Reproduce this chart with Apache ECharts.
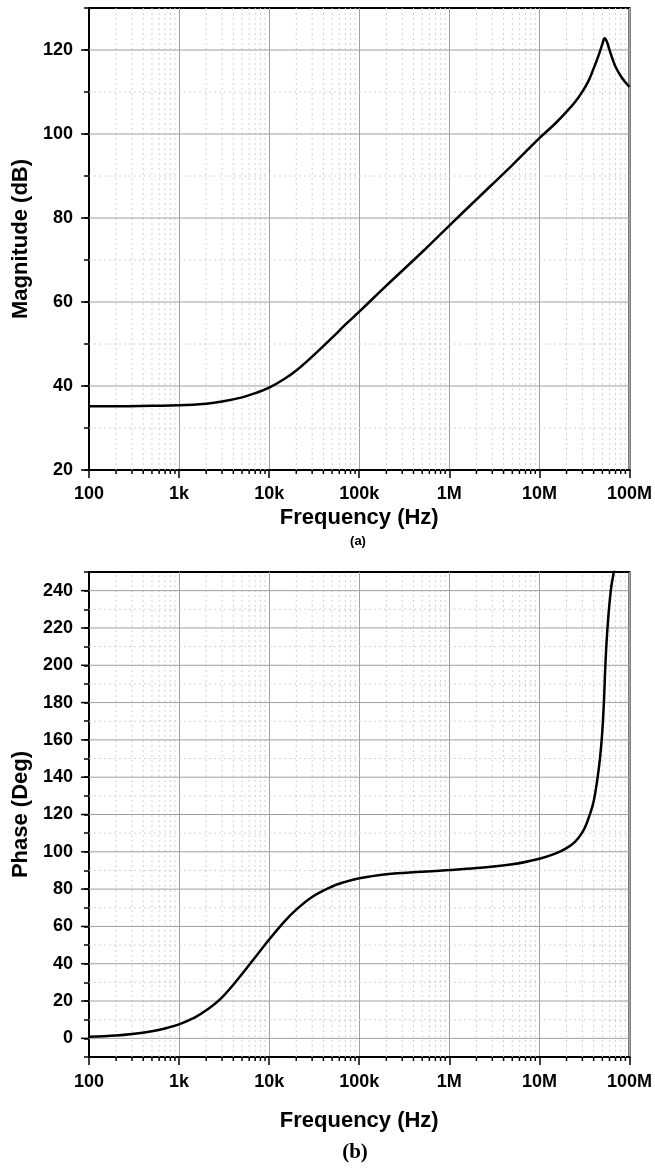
<!DOCTYPE html>
<html>
<head>
<meta charset="utf-8">
<script src="https://cdn.jsdelivr.net/npm/echarts@6/dist/echarts.min.js"></script>
<style>html,body{margin:0;padding:0;background:#fff}#c{width:655px;height:1169px}</style>
</head>
<body>
<div id="c"></div>
<script>
// ---- data ----
const freqTickLabels = ['100', '1k', '10k', '100k', '1M', '10M', '100M'];
const freqTickExp = [2, 3, 4, 5, 6, 7, 8];

const magFreq = [100, 200, 500, 1e3, 2e3, 3e3, 5e3, 7e3, 1e4, 1.5e4, 2e4, 3e4, 5e4, 7e4, 1e5, 2e5, 5e5, 1e6, 2e6, 5e6, 1e7, 1.5e7, 2e7, 2.5e7, 3e7, 3.5e7, 4e7, 4.5e7, 5e7, 5.3e7, 5.6e7, 6e7, 6.5e7, 7e7, 8e7, 9e7, 1e8];
const magDb = [35.2, 35.2, 35.3, 35.4, 35.8, 36.3, 37.3, 38.3, 39.6, 41.8, 43.7, 47.0, 51.5, 54.6, 57.7, 63.9, 71.9, 78.2, 84.4, 92.6, 99.0, 102.5, 105.3, 107.7, 110.1, 112.6, 115.6, 118.5, 121.4, 122.8, 122.0, 120.0, 117.8, 116.0, 113.8, 112.3, 111.2];

const phFreq = [100, 200, 300, 500, 700, 1e3, 1.5e3, 2e3, 3e3, 5e3, 7e3, 1e4, 1.5e4, 2e4, 3e4, 5e4, 7e4, 1e5, 2e5, 5e5, 1e6, 2e6, 5e6, 1e7, 1.5e7, 2e7, 2.5e7, 3e7, 3.3e7, 3.6e7, 4e7, 4.4e7, 4.7e7, 4.95e7, 5.2e7, 5.4e7, 5.7e7, 6.2e7, 6.7e7, 7.5e7];
const phDeg = [0.8, 1.5, 2.3, 3.8, 5.3, 7.5, 11.2, 15, 22, 34.5, 43.5, 53, 63, 69, 75.8, 81.4, 83.9, 85.8, 88, 89.3, 90.2, 91.3, 93.3, 96.3, 99, 102, 105.5, 110.5, 114.5, 119.5, 127, 139, 150, 162, 180, 200, 220, 240, 250, 262];

const magMajor = [40, 60, 80, 100, 120];
const magMinor = [30, 50, 70, 90, 110];
const magLabels = [20, 40, 60, 80, 100, 120];
const phMajor = [0, 20, 40, 60, 80, 100, 120, 140, 160, 180, 200, 220, 240];
const phMinor = [10, 30, 50, 70, 90, 110, 130, 150, 170, 190, 210, 230];

// ---- helpers ----
const FONT = 'Liberation Sans, Arial, sans-serif';
const X_MIN = 2, X_MAX = 8;
const minorExp = [];
for (let n = 2; n < 8; n++) for (let k = 2; k <= 9; k++) minorExp.push(n + Math.log10(k));

const bounds = [{ yMin: 20, yMax: 130 }, { yMin: -10, yMax: 250 }];

function deco(gi, values, kind, style, len) {
  const b = bounds[gi];
  return {
    type: 'custom', xAxisIndex: gi, yAxisIndex: gi, z: 1, silent: true, clip: false,
    data: values.map(v => [v, v]),
    renderItem: function (params, api) {
      const v = api.value(0);
      let p0, p1;
      if (kind === 'v') { p0 = api.coord([v, b.yMin]); p1 = api.coord([v, b.yMax]); }
      else if (kind === 'h') { p0 = api.coord([X_MIN, v]); p1 = api.coord([X_MAX, v]); }
      else if (kind === 'xt') { p0 = api.coord([v, b.yMin]); p1 = [p0[0], p0[1] + len]; }
      else { p0 = api.coord([X_MIN, v]); p1 = [p0[0] - len, p0[1]]; }
      return { type: 'line', shape: { x1: p0[0], y1: p0[1], x2: p1[0], y2: p1[1] }, style: style };
    }
  };
}

const minorStyle = { stroke: '#d2d2d2', lineWidth: 1, lineDash: [2, 3] };
const majorStyle = { stroke: '#a0a0a0', lineWidth: 1 };
const tickStyle = { stroke: '#000', lineWidth: 1.5 };

function xAxisDef(gi, labelMargin, nameGap) {
  return {
    type: 'value', gridIndex: gi, min: X_MIN, max: X_MAX, interval: 1,
    name: 'Frequency (Hz)', nameLocation: 'middle', nameGap: nameGap,
    nameTextStyle: { fontFamily: FONT, fontWeight: 'bold', fontSize: 22, color: '#000' },
    axisLine: { onZero: false, lineStyle: { color: '#000', width: 2 } },
    axisTick: { show: true, inside: false, length: 8, lineStyle: { color: '#000', width: 1.5 } },
    axisLabel: {
      margin: labelMargin, fontFamily: FONT, fontWeight: 'bold', fontSize: 18, color: '#000',
      formatter: v => { const i = freqTickExp.indexOf(Math.round(v)); return i >= 0 ? freqTickLabels[i] : ''; }
    },
    splitLine: { show: true, lineStyle: { color: '#a0a0a0', width: 1 } }
  };
}

function yAxisDef(gi, name, min, max, labels, nameGap) {
  return {
    type: 'value', gridIndex: gi, min: min, max: max, interval: 10,
    name: name, nameLocation: 'middle', nameGap: nameGap, nameRotate: 90,
    nameTextStyle: { fontFamily: FONT, fontWeight: 'bold', fontSize: 22, color: '#000' },
    axisLine: { show: true, onZero: false, lineStyle: { color: '#000', width: 2 } },
    axisTick: { show: true, inside: false, length: 5, lineStyle: { color: '#000', width: 1.5 } },
    axisLabel: {
      margin: 16, fontFamily: FONT, fontWeight: 'bold', fontSize: 18, color: '#000',
      formatter: v => labels.indexOf(Math.round(v)) >= 0 ? String(Math.round(v)) : ''
    },
    splitLine: { show: false }
  };
}

const chart = echarts.init(document.getElementById('c'), null, { renderer: 'canvas' });
chart.setOption({
  animation: false,
  backgroundColor: '#fff',
  grid: [
    { left: 89, right: 23, top: 8, height: 462, show: true, borderColor: '#000', borderWidth: 2, backgroundColor: 'transparent' },
    { left: 89, right: 23, top: 572, height: 485, show: true, borderColor: '#000', borderWidth: 2, backgroundColor: 'transparent' }
  ],
  xAxis: [xAxisDef(0, 15, 37), xAxisDef(1, 16, 53)],
  yAxis: [
    yAxisDef(0, 'Magnitude (dB)', 20, 130, magLabels, 55),
    yAxisDef(1, 'Phase (Deg)', -10, 250, phMajor, 55)
  ],
  graphic: [
    { type: 'text', x: 358, y: 541, style: { text: '(a)', font: 'bold 13px ' + FONT, fill: '#000', textAlign: 'center', textVerticalAlign: 'middle' } },
    { type: 'text', x: 355, y: 1153, style: { text: '(b)', font: 'bold 21px Liberation Serif, Times New Roman, serif', fill: '#000', textAlign: 'center', textVerticalAlign: 'middle' } }
  ],
  series: [
    deco(0, minorExp, 'v', minorStyle),
    deco(0, magMinor, 'h', minorStyle),
    deco(0, magMajor, 'h', majorStyle),
    deco(0, minorExp, 'xt', tickStyle, 4),
    deco(0, magLabels, 'yt', tickStyle, 8),
    deco(1, minorExp, 'v', minorStyle),
    deco(1, phMinor, 'h', minorStyle),
    deco(1, phMajor, 'h', majorStyle),
    deco(1, minorExp, 'xt', tickStyle, 4),
    deco(1, phMajor, 'yt', tickStyle, 8),
    {
      type: 'line', xAxisIndex: 0, yAxisIndex: 0, z: 5, showSymbol: false, smooth: 0.4,
      lineStyle: { color: '#000', width: 2.5 },
      data: magFreq.map((f, i) => [Math.log10(f), magDb[i]])
    },
    {
      type: 'line', xAxisIndex: 1, yAxisIndex: 1, z: 5, showSymbol: false, smooth: 0.4,
      lineStyle: { color: '#000', width: 2.5 },
      data: phFreq.map((f, i) => [Math.log10(f), phDeg[i]])
    }
  ]
});
</script>
</body>
</html>
